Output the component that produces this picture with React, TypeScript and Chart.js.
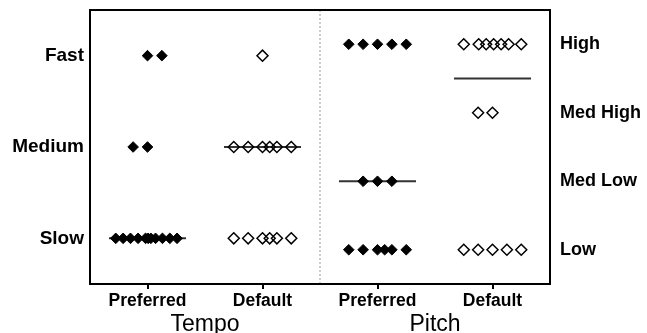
import React, { useEffect, useRef } from "react";
import { Chart, registerables } from "chart.js";

Chart.register(...registerables);

// Axis categories
const conditionLabels = ["Preferred", "Default", "Preferred", "Default"];
const conditionPositions = [1, 2, 3, 4];
const groupLabels = ["Tempo", "Pitch"];
const groupPositions = [1.5, 3.5];
const tempoLevels = ["Slow", "Medium", "Fast"]; // values 1..3
const pitchLevels = ["Low", "Med Low", "Med High", "High"]; // values 1..4

// Tempo – Preferred (filled)
const tempoPrefFast = [1.0, 1.125];
const tempoPrefMedium = [0.875, 1.0];
const tempoPrefSlow = [0.724, 0.788, 0.852, 0.918, 0.983, 1.005, 1.029, 1.07, 1.13, 1.194, 1.257];
// Tempo – Default (open)
const tempoDefFast = [2.0];
const tempoDefMedium = [1.75, 1.875, 2.0, 2.0625, 2.125, 2.25];
const tempoDefSlow = [1.75, 1.875, 2.0, 2.0625, 2.125, 2.25];
// Pitch – Preferred (filled)
const pitchPrefHigh = [2.75, 2.875, 3.0, 3.125, 3.25];
const pitchPrefMedLow = [2.875, 3.0, 3.125];
const pitchPrefLow = [2.75, 2.875, 3.0, 3.0625, 3.125, 3.25];
// Pitch – Default (open)
const pitchDefHigh = [3.75, 3.88, 3.945, 4.01, 4.075, 4.14, 4.25];
const pitchDefMedHigh = [3.875, 4.0];
const pitchDefLow = [3.75, 3.875, 4.0, 4.125, 4.25];

// Medians (level value per condition)
const tempoPrefMedian = 1;
const tempoDefMedian = 2;
const pitchPrefMedian = 2;
const pitchDefMedian = 3.5;
const medianHalfWidth = 0.335;

const FONT = "Liberation Sans, Arial, sans-serif";

const pts = (xs: number[], y: number) => xs.map((x) => ({ x, y }));

const filled = (data: any[], axis: string) => ({
  type: "scatter" as const,
  data,
  yAxisID: axis,
  pointStyle: "rectRot",
  pointRadius: 5.3,
  pointBackgroundColor: "#000",
  pointBorderColor: "#000",
  pointBorderWidth: 1,
  showLine: false,
});
const open = (data: any[], axis: string) => ({
  type: "scatter" as const,
  data,
  yAxisID: axis,
  pointStyle: "rectRot",
  pointRadius: 5.5,
  pointBackgroundColor: "rgba(0,0,0,0)",
  pointBorderColor: "#000",
  pointBorderWidth: 1.5,
  showLine: false,
});
const median = (cx: number, y: number, axis: string) => ({
  type: "line" as const,
  data: [
    { x: cx - medianHalfWidth, y },
    { x: cx + medianHalfWidth, y },
  ],
  yAxisID: axis,
  borderColor: "#333",
  borderWidth: 2,
  pointRadius: 0,
  showLine: true,
});

const framePlugin = {
  id: "frame",
  afterDatasetsDraw(chart: any) {
    const { ctx, chartArea } = chart;
    const xs = chart.scales.x;
    const midX = xs.getPixelForValue(2.5);
    ctx.save();
    ctx.strokeStyle = "#999";
    ctx.lineWidth = 1;
    ctx.setLineDash([2, 2]);
    ctx.beginPath();
    ctx.moveTo(midX, chartArea.top);
    ctx.lineTo(midX, chartArea.bottom);
    ctx.stroke();
    ctx.setLineDash([]);
    ctx.strokeStyle = "#000";
    ctx.lineWidth = 2;
    ctx.strokeRect(
      chartArea.left,
      chartArea.top,
      chartArea.right - chartArea.left,
      chartArea.bottom - chartArea.top
    );
    ctx.restore();
  },
};

const noPadV = (s: any) => {
  s.paddingTop = 0;
  s.paddingBottom = 0;
};
const noPadH = (s: any) => {
  s.paddingLeft = 0;
  s.paddingRight = 0;
};

export default function App() {
  const ref = useRef<HTMLCanvasElement | null>(null);
  useEffect(() => {
    if (!ref.current) return;
    const chart = new Chart(ref.current, {
      type: "scatter",
      data: {
        datasets: [
          filled(pts(tempoPrefFast, 3), "y"),
          filled(pts(tempoPrefMedium, 2), "y"),
          filled(pts(tempoPrefSlow, 1), "y"),
          open(pts(tempoDefFast, 3), "y"),
          open(pts(tempoDefMedium, 2), "y"),
          open(pts(tempoDefSlow, 1), "y"),
          filled(pts(pitchPrefHigh, 4), "y2"),
          filled(pts(pitchPrefMedLow, 2), "y2"),
          filled(pts(pitchPrefLow, 1), "y2"),
          open(pts(pitchDefHigh, 4), "y2"),
          open(pts(pitchDefMedHigh, 3), "y2"),
          open(pts(pitchDefLow, 1), "y2"),
          median(1, tempoPrefMedian, "y"),
          median(2, tempoDefMedian, "y"),
          median(3, pitchPrefMedian, "y2"),
          median(4, pitchDefMedian, "y2"),
        ] as any,
      },
      options: {
        responsive: false,
        maintainAspectRatio: false,
        animation: false,
        layout: { padding: { top: 10, left: 0, right: 0, bottom: 0 } },
        plugins: { legend: { display: false }, tooltip: { enabled: false } },
        scales: {
          x: {
            type: "linear",
            position: "bottom",
            weight: 0,
            min: 0.5,
            max: 4.5,
            afterBuildTicks: (s: any) => {
              s.ticks = conditionPositions.map((v) => ({ value: v }));
            },
            afterFit: (s: any) => {
              s.height = 27;
              noPadH(s);
            },
            grid: {
              display: true,
              drawOnChartArea: false,
              drawTicks: true,
              tickLength: 5,
              color: "#000",
              lineWidth: 2,
            },
            border: { display: false },
            ticks: {
              autoSkip: false,
              maxRotation: 0,
              padding: 2,
              color: "#000",
              font: { family: FONT, size: 17.5, weight: "bold" },
              callback: (v: any) => {
                const i = conditionPositions.indexOf(Number(v));
                return i >= 0 ? conditionLabels[i] : "";
              },
            },
          },
          x2: {
            type: "linear",
            position: "bottom",
            weight: 1,
            min: 0.5,
            max: 4.5,
            afterBuildTicks: (s: any) => {
              s.ticks = groupPositions.map((v) => ({ value: v }));
            },
            afterFit: (s: any) => {
              s.height = 22;
              noPadH(s);
            },
            grid: { display: false, drawTicks: false },
            border: { display: false },
            ticks: {
              autoSkip: false,
              maxRotation: 0,
              padding: 0,
              color: "#000",
              font: { family: FONT, size: 23, weight: "normal" },
              callback: (v: any) => {
                const i = groupPositions.indexOf(Number(v));
                return i >= 0 ? groupLabels[i] : "";
              },
            },
          },
          y: {
            type: "linear",
            position: "left",
            min: 0.5,
            max: 3.5,
            afterBuildTicks: (s: any) => {
              s.ticks = tempoLevels.map((_, i) => ({ value: i + 1 }));
            },
            afterFit: (s: any) => {
              s.width = 90;
              noPadV(s);
            },
            grid: { display: false, drawTicks: false },
            border: { display: false },
            ticks: {
              autoSkip: false,
              padding: 6,
              color: "#000",
              font: { family: FONT, size: 19, weight: "bold" },
              callback: (v: any) => tempoLevels[Number(v) - 1] ?? "",
            },
          },
          y2: {
            type: "linear",
            position: "right",
            min: 0.5,
            max: 4.5,
            afterBuildTicks: (s: any) => {
              s.ticks = pitchLevels.map((_, i) => ({ value: i + 1 }));
            },
            afterFit: (s: any) => {
              s.width = 97;
              noPadV(s);
            },
            grid: { display: false, drawTicks: false },
            border: { display: false },
            ticks: {
              autoSkip: false,
              padding: 10,
              color: "#000",
              font: { family: FONT, size: 18, weight: "bold" },
              callback: (v: any) => pitchLevels[Number(v) - 1] ?? "",
            },
          },
        },
      } as any,
      plugins: [framePlugin],
    });
    return () => chart.destroy();
  }, []);

  return (
    <div style={{ position: "fixed", left: 0, top: 0, width: 647, height: 333, background: "#fff" }}>
      <canvas ref={ref} width={647} height={333} style={{ width: 647, height: 333 }} />
    </div>
  );
}
